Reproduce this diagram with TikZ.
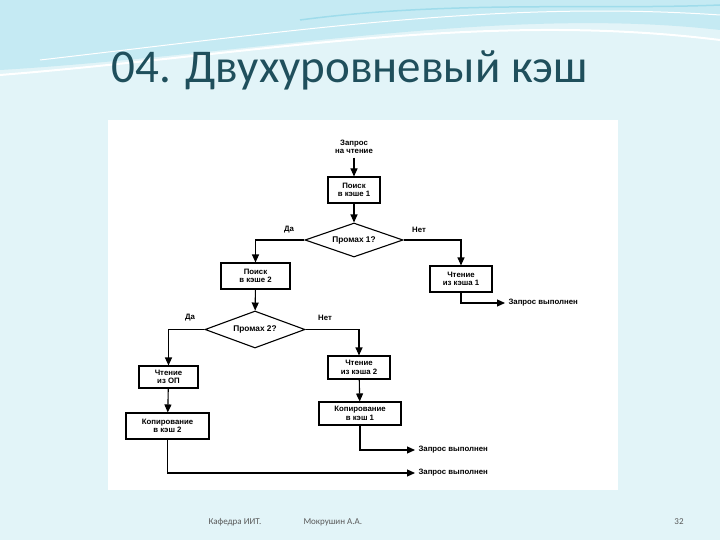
\documentclass[tikz,border=0pt]{standalone}
\usepackage{fontspec}
\setmainfont{Liberation Sans}
\newfontfamily\titlefont{Carlito}
\usetikzlibrary{shapes.geometric,arrows.meta}
\definecolor{bgc}{HTML}{E2F4F8}
\definecolor{wave}{HTML}{9FDCEB}
\definecolor{titlec}{HTML}{1F4F5C}
\begin{document}
\begin{tikzpicture}[x=1pt,y=-1pt,
  box/.style={draw,line width=1.1pt,minimum width=#1,minimum height=25pt,inner sep=1pt,align=center,font=\fontsize{7.8}{8.5}\selectfont\bfseries},
  box/.default=60pt,
  dia/.style={draw,line width=1.1pt,diamond,aspect=2.8,inner sep=1pt,font=\fontsize{8.3}{9}\selectfont\bfseries},
  lbl/.style={font=\fontsize{7.8}{8.5}\selectfont\bfseries},
  ar/.style={line width=1.1pt,-{Triangle[length=8pt,width=7pt]}}]
\useasboundingbox (0,0) rectangle (720,540);
\fill[bgc] (0,0) rectangle (720,540);
\fill[wave!60] (0,0) -- (720,0) -- (720,30) .. controls (500,5) and (250,55) .. (0,70) -- cycle;
\draw[white,line width=2pt] (0,75) .. controls (250,55) and (480,10) .. (720,40);
\draw[white,line width=1pt] (40,60) .. controls (300,30) and (500,0) .. (720,15);
\draw[wave,line width=1.5pt] (300,20) .. controls (450,0) and (600,10) .. (720,5);
\node[titlec,font=\titlefont\fontsize{47}{50}\selectfont,anchor=west] (title) at (108,70) {04. Двухуровневый кэш};
\fill[white] (108,120) rectangle (618,490);
\node[lbl,align=center] (start) at (354,147) {Запрос\\на чтение};
\node[box=52pt,minimum height=26pt] (p1) at (354,190) {Поиск\\в кэше 1};
\node[dia,minimum width=98pt,minimum height=34pt] (d1) at (354,240) {Промах 1?};
\node[box=69pt,minimum height=26pt] (p2) at (255.5,276) {Поиск\\в кэше 2};
\node[box=62pt,minimum height=26pt] (r1) at (461,279) {Чтение\\из кэша 1};
\node[dia,minimum width=100pt,minimum height=37pt] (d2) at (255,329.5) {Промах 2?};
\node[box=59pt,minimum height=22pt] (op) at (168.5,377) {Чтение\\из ОП};
\node[box=83pt,minimum height=26pt] (c2) at (167.5,426) {Копирование\\в кэш 2};
\node[box=62pt,minimum height=23pt] (r2) at (359,367.5) {Чтение\\из кэша 2};
\node[box=82pt,minimum height=23pt] (c1) at (360,413.5) {Копирование\\в кэш 1};
\coordinate (e1) at (505,303);
\coordinate (e2) at (415,450);
\coordinate (e3) at (415,473);
\node[lbl,anchor=west] (t1) at (e1) {Запрос выполнен};
\node[lbl,anchor=west] (t2) at (e2) {Запрос выполнен};
\node[lbl,anchor=west] (t3) at (e3) {Запрос выполнен};
\node[lbl] (y1) at (289,230) {Да};
\node[lbl] (n1) at (419,230) {Нет};
\node[lbl] (y2) at (190,318) {Да};
\node[lbl] (n2) at (325,318) {Нет};
\draw[ar] (start) -- (p1);
\draw[ar] (p1) -- (d1);
\draw[ar] (d1.west) -| (p2.north);
\draw[ar] (d1.east) -| (r1.north);
\draw[ar] (r1.south) |- (e1);
\draw[ar] (p2) -- (d2);
\draw[ar] (d2.west) -| (op.north);
\draw[ar] (d2.east) -| (r2.north);
\draw[ar] (op) -- (c2);
\draw[ar] (r2) -- (c1);
\draw[ar] (c1.south) |- (e2);
\draw[ar] (c2.south) |- (e3);
\node[font=\titlefont\fontsize{9}{10}\selectfont,gray!70!black,anchor=west] (f1) at (205,522) {Кафедра ИИТ.};
\node[font=\titlefont\fontsize{9}{10}\selectfont,gray!70!black,anchor=west] (f2) at (300,522) {Мокрушин А.А.};
\node[font=\titlefont\fontsize{9}{10}\selectfont,gray!70!black] (f3) at (679,522) {32};
\end{tikzpicture}
\end{document}
